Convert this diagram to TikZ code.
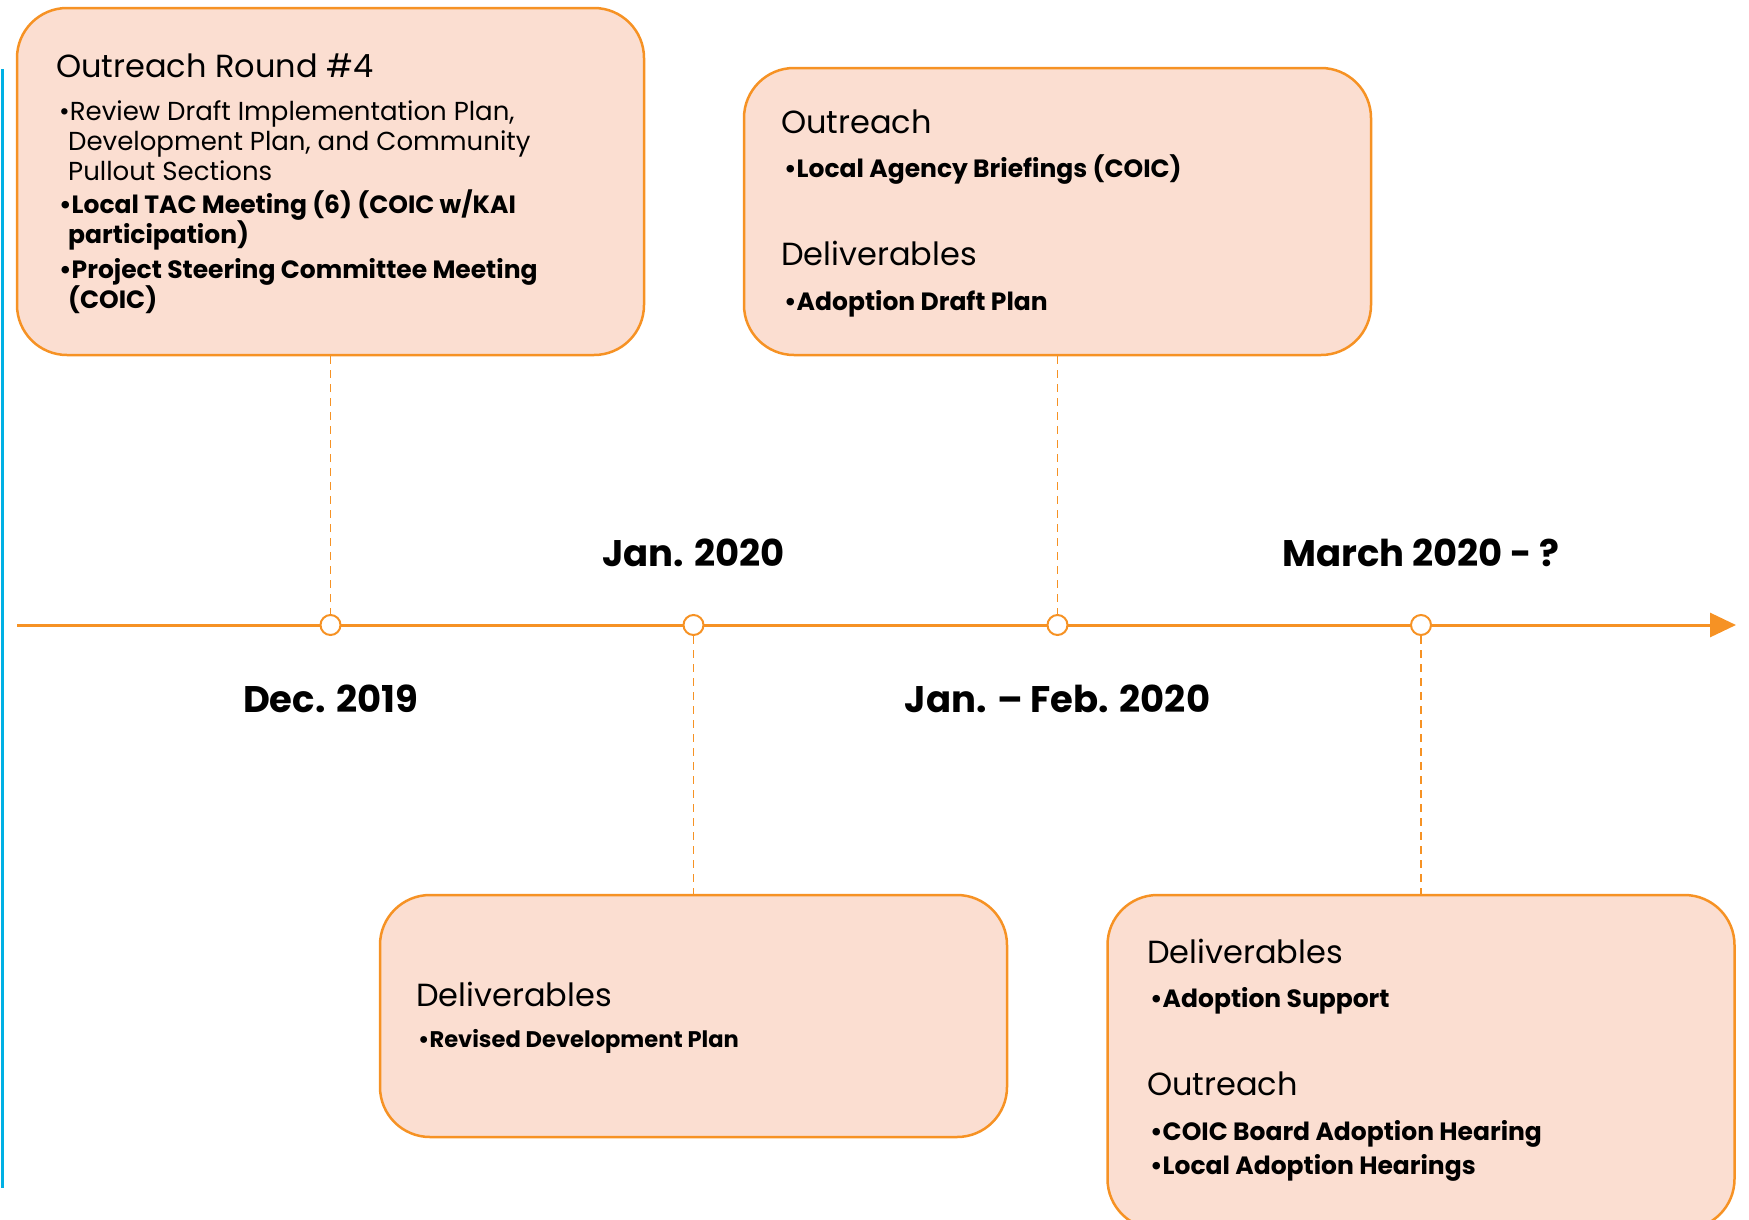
\documentclass[tikz,border=0pt]{standalone}
\usepackage{fontspec}
\setmainfont{Poppins}
\usetikzlibrary{arrows.meta}

\definecolor{tlorange}{RGB}{246,146,36}
\definecolor{tlpeach}{RGB}{251,222,209}
\definecolor{tlblue}{RGB}{0,176,228}

\begin{document}
\begin{tikzpicture}[x=1pt,y=-1pt,
        box/.style={draw=tlorange,fill=tlpeach,line width=2.5pt,rounded corners=50pt,minimum width=627pt,inner sep=0pt},
        head/.style={anchor=base west,inner sep=0pt,font=\fontsize{32}{38}\selectfont},
        plain/.style={anchor=base west,inner sep=0pt,align=left,font=\fontsize{26}{30}\selectfont},
        item/.style={anchor=base west,inner sep=0pt,align=left,font=\fontsize{25}{30}\selectfont\bfseries},
        date/.style={anchor=base,inner sep=0pt,font=\fontsize{37}{40}\selectfont\bfseries},
        dot/.style={circle,draw=tlorange,fill=white,line width=2pt,minimum size=20pt,inner sep=0pt},
        link/.style={draw=tlorange,line width=1.5pt,dash pattern=on 8pt off 6pt}]

    \useasboundingbox (0,0) rectangle (1749,1219);

    \draw[tlblue,line width=3pt] (2,69) -- (2,1188);

    \node[box,minimum height=347pt] (b1) at (330.5,181.5) {};
    \node[box,minimum height=287pt] (b2) at (1057.5,211.5) {};
    \node[box,minimum height=242pt] (b3) at (693.5,1016) {};
    \node[box,minimum height=334pt] (b4) at (1421,1062) {};

    \coordinate (t0) at (17,625);
    \coordinate (t1) at (1736,625);
    \draw[tlorange,line width=3pt,-{Triangle[length=26pt,width=24pt]}] (t0) -- (t1);

    \node[dot] (d1) at (330.5,625) {};
    \node[dot] (d2) at (693.5,625) {};
    \node[dot] (d3) at (1057.5,625) {};
    \node[dot] (d4) at (1421,625) {};

    \draw[link] (b1.south) -- (d1.north);
    \draw[link] (d2.south) -- (b3.north);
    \draw[link] (b2.south) -- (d3.north);
    \draw[link] (d4.south) -- (b4.north);

    \node[date] (l1) at (330.5,712) {Dec. 2019};
    \node[date] (l2) at (693.5,566) {Jan. 2020};
    \node[date] (l3) at (1057.5,712) {Jan. – Feb. 2020};
    \node[date] (l4) at (1421,566) {March 2020 - ?};

    \node[head] (h11) at (56,77) {Outreach Round \#4};
    \node[plain] (i11) at (59,180) {•Review Draft Implementation Plan,\\\hspace*{9pt}Development Plan, and Community\\\hspace*{9pt}Pullout Sections};
    \node[item] (i12) at (59,243) {•Local TAC Meeting (6) (COIC w/KAI\\\hspace*{9pt}participation)};
    \node[item] (i13) at (59,308) {•Project Steering Committee Meeting\\\hspace*{9pt}(COIC)};

    \node[head] (h21) at (781,133) {Outreach};
    \node[item] (i21) at (784,177) {•Local Agency Briefings (COIC)};
    \node[head] (h22) at (781,265) {Deliverables};
    \node[item] (i22) at (784,310) {•Adoption Draft Plan};

    \node[head] (h31) at (416,1006) {Deliverables};
    \node[item,font=\fontsize{22.6}{26}\selectfont\bfseries] (i31) at (418,1047) {•Revised Development Plan};

    \node[head] (h41) at (1147,963) {Deliverables};
    \node[item] (i41) at (1150,1007) {•Adoption Support};
    \node[head] (h42) at (1147,1095) {Outreach};
    \node[item] (i42) at (1150,1140) {•COIC Board Adoption Hearing};
    \node[item] (i43) at (1150,1174) {•Local Adoption Hearings};
\end{tikzpicture}
\end{document}
